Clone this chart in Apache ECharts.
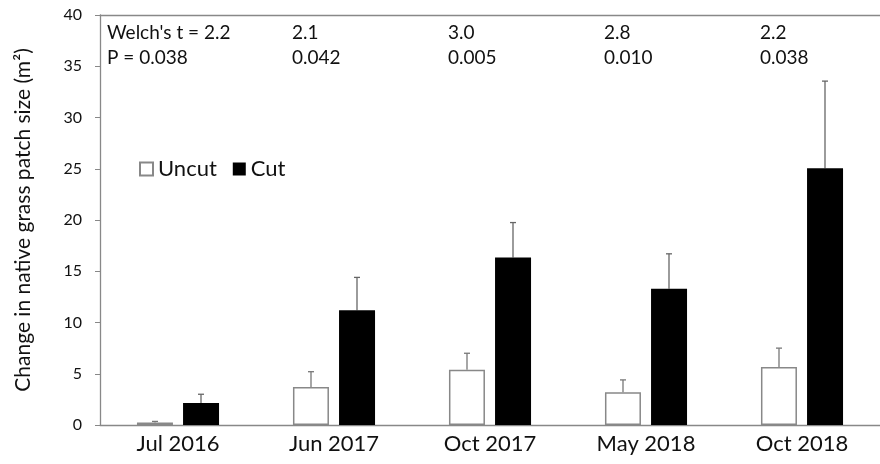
<!DOCTYPE html>
<html>
<head>
<meta charset="utf-8">
<script src="https://cdn.jsdelivr.net/npm/echarts@6/dist/echarts.min.js"></script>
<style>
  html, body { margin: 0; padding: 0; background: #fff; }
  #chart { width: 880px; height: 464px; }
</style>
</head>
<body>
<div id="chart"></div>
<script>
  // sampling dates
  var categories = ['Jul 2016', 'Jun 2017', 'Oct 2017', 'May 2018', 'Oct 2018'];
  // mean change in patch size (m2)
  var uncutMean = [0.25, 3.7, 5.4, 3.2, 5.65];
  var uncutErr = [0.1, 1.5, 1.6, 1.2, 1.85];
  var cutMean = [2.15, 11.2, 16.35, 13.3, 25.05];
  var cutErr = [0.85, 3.2, 3.4, 3.4, 8.5];
  // Welch's t test results per date
  var tLabels = ["Welch's t = 2.2", '2.1', '3.0', '2.8', '2.2'];
  var pLabels = ['P = 0.038', '0.042', '0.005', '0.010', '0.038'];
  var yTicks = [0, 5, 10, 15, 20, 25, 30, 35, 40];

  var font = 'Lato';
  var myChart = echarts.init(document.getElementById('chart'));

  // upper whisker only, shifted onto its bar
  function errorSeries(means, errs, shift, color) {
    return {
      type: 'custom',
      silent: true,
      z: 1,
      data: means.map(function (m, i) { return [i, m, m + errs[i]]; }),
      renderItem: function (params, api) {
        var lo = api.coord([api.value(0), api.value(1)]);
        var hi = api.coord([api.value(0), api.value(2)]);
        var x = lo[0] + shift;
        var style = { stroke: color, lineWidth: 1.3 };
        return {
          type: 'group',
          children: [
            { type: 'line', shape: { x1: x, y1: lo[1], x2: x, y2: hi[1] }, style: style },
            { type: 'line', shape: { x1: x - 3, y1: hi[1], x2: x + 3, y2: hi[1] }, style: style }
          ]
        };
      }
    };
  }

  myChart.setOption({
    animation: false,
    textStyle: { fontFamily: font },
    grid: { left: 100, right: -12, top: 15, bottom: 39 },
    legend: {
      left: 134, top: 153,
      itemWidth: 13, itemHeight: 13, itemGap: 16,
      icon: 'rect',
      textStyle: { fontFamily: font, fontSize: 22, color: '#111' },
      data: ['Uncut', 'Cut']
    },
    xAxis: [
      {
        type: 'category',
        data: categories,
        axisLine: { lineStyle: { color: '#888', width: 1.3 } },
        axisTick: { show: false },
        axisLabel: { fontFamily: font, fontSize: 22, color: '#111', margin: 8 }
      },
      {
        // top frame line
        type: 'category',
        position: 'top',
        data: categories,
        axisLine: { lineStyle: { color: '#888', width: 1.3 } },
        axisTick: { show: false },
        axisLabel: { show: false }
      }
    ],
    yAxis: {
      type: 'value',
      min: yTicks[0],
      max: yTicks[yTicks.length - 1],
      interval: 5,
      name: 'Change in native grass patch size (m²)',
      nameLocation: 'middle',
      nameGap: 66,
      nameTextStyle: { fontFamily: font, fontSize: 21, color: '#111' },
      axisLine: { show: true, lineStyle: { color: '#888', width: 1.3 } },
      axisTick: { show: true, length: 5, lineStyle: { color: '#888' } },
      axisLabel: { fontFamily: font, fontSize: 16, color: '#111', margin: 18 },
      splitLine: { show: false }
    },
    series: [
      {
        name: 'Uncut',
        type: 'bar',
        data: uncutMean,
        barWidth: 36,
        barGap: '28%',
        itemStyle: { color: '#fff', borderColor: '#888', borderWidth: 1.5 }
      },
      {
        name: 'Cut',
        type: 'bar',
        data: cutMean,
        barWidth: 36,
        itemStyle: { color: '#000' }
      },
      errorSeries(uncutMean, uncutErr, -23, '#777'),
      errorSeries(cutMean, cutErr, 23, '#666')
    ]
  });

  // test statistics above each date
  var texts = [];
  categories.forEach(function (c, i) {
    var p1 = myChart.convertToPixel({ xAxisIndex: 0, yAxisIndex: 0 }, [c, 38.3]);
    var p2 = myChart.convertToPixel({ xAxisIndex: 0, yAxisIndex: 0 }, [c, 35.8]);
    var x = i === 0 ? 107 : p1[0] - 42;
    texts.push({ type: 'text', x: x, y: p1[1], style: { text: tLabels[i], font: '19px ' + font, fill: '#111', textVerticalAlign: 'middle' } });
    texts.push({ type: 'text', x: x, y: p2[1], style: { text: pLabels[i], font: '19px ' + font, fill: '#111', textVerticalAlign: 'middle' } });
  });
  myChart.setOption({ graphic: texts });
</script>
</body>
</html>
